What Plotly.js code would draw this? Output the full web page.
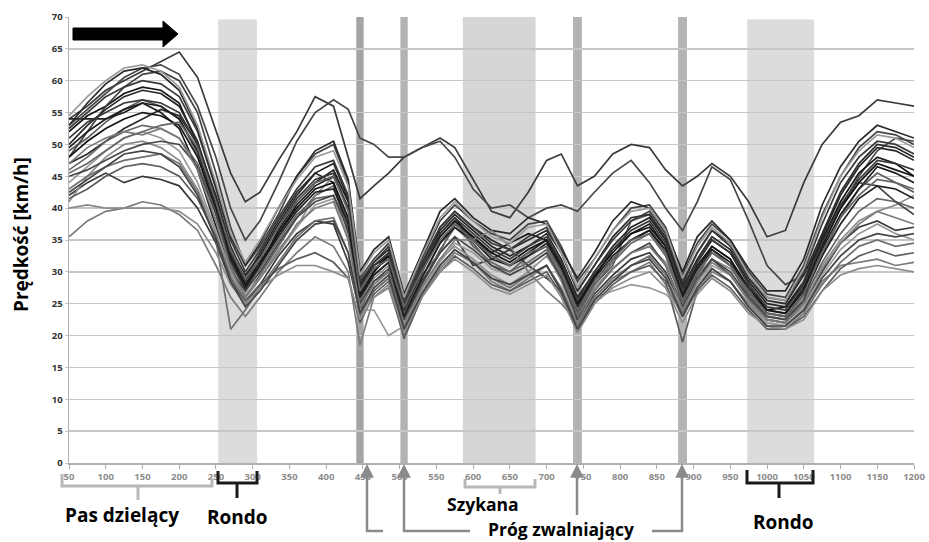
<!DOCTYPE html>
<html><head><meta charset="utf-8">
<script src="https://cdn.plot.ly/plotly-3.0.1.min.js"></script>
<style>html,body{margin:0;padding:0;background:#fff}#chart{width:929px;height:542px}</style>
</head><body><div id="chart"></div>
<script>
// distance along the route [m]
const distance = [50,75,100,125,150,175,200,225,250,270,290,310,335,360,385,410,430,446,465,485,506,530,555,575,600,625,650,675,700,720,742,765,790,815,840,862,885,905,925,950,975,1000,1025,1050,1075,1100,1125,1150,1175,1200];

// speed of each drive [km/h]
const s01 = [54,56,58.5,60,61.5,63,64.5,60.5,52,45.5, 41,42.5,47.5,52,57.5,56,48,41.5,43.5,45.5, 48,49.5,51,49.5,44.5,39.5,38.5,42.5,47.5,48.5, 43.5,45,48.5,50,49.5,46,43.5,45,47,45, 41,35.5,36.5,44,50,53.5,54.5,57,56.5,56];
const s02 = [53,55.5,58,60.5,62,62.5,61,56,48,40, 35,38,44,50.5,55,57,55.5,51,50,48, 48,49.5,50.5,48,43,40,40.5,38.5,40,40.5, 39.5,42.5,45.5,47.5,44,40,36.5,41,46.5,44.5, 38,31,28,29.5,35,40,45,49,51,50.5];
const s03 = [52,54.5,56,58,59,58.5,56.5,50,41,33, 28,31,36.5,41,44,46,41,28,31,32.5, 24,30,36,38.5,35,33,34.5,36,35,31, 25,29,33.5,36,37.5,34,27,31.5,35,33, 28,24,24.5,28,35,41,45.5,48,47,45];
const s04 = [49,51,53.5,55.5,57,56,54,48.5,39,31, 26,29.5,34,38.5,42,43.5,38,24,28.5,30, 21,28,33.5,37,34.5,31,30,32.5,34,30, 23.5,28,31,38,39,35,25.5,30,33.5,31, 26.5,23,22.5,26,32.5,38.5,43,45.5,44,42.5];
const s05 = [47,48.5,50.5,52.5,54,55.5,54.5,50,42,34, 29,33,38,42.5,45.5,44,36,26,30,33, 25,31,37,39.5,37,35,33.5,35,36.5,33, 27,31,35.5,38.5,39,35.5,28,33,36.5,34.5, 29,25.5,25,29.5,36,42.5,47,50,49.5,48];
const s06 = [35.5,38,39.5,40,41,40.5,39,36.5,31,26, 23,26,30,33,35.5,34,30,18.5,26,27.5, 20,26,30.5,33,31.5,28.5,27,29,31,27, 21,25.5,28.5,30,31.5,28,23,27,30,28.5, 25,22,21.5,24,28.5,31,31.5,32,31,31.5];
const s07 = [42,44,45.5,44,45,44.5,43.5,40,34.5,28.5, 25,28,32.5,36,38,37.5,31.5,23.5,27,29, 22.5,28.5,33,35.5,31,32,33.5,31,29,27, 22,26.5,29.5,32,33,30,24.5,28.5,32,29.5, 25.5,22.5,22,25,30,34.5,37,38,36.5,37];
const s08 = [41,45,48,50,50.5,49.5,47.5,43,36,29.5, 26,29,33.5,37,42,45,40,25,29,31, 22,27.5,32,34,32,29.5,28,30,32.5,29, 23,27.5,30.5,33,34,31.5,26,29.5,32,30.5, 27,23.5,23,26,31,35,38,39.5,40.5,42];
const s09 = [54,54,54,55,56.5,55,52.5,46,37,30, 27,31,36,40.5,43.5,45,40,27,30.5,32, 23,29,34.5,37.5,35.5,32.5,31,33,35,31.5, 24.5,29,32.5,35,36.5,33,26.5,31,34,32, 27.5,24,23.5,27,33.5,39,43,46.5,45.5,44];
const s10 = [46,48,50.5,52,53,52.5,51,47,39.5,32, 27.5,30.5,35,39,41.5,42,37,25.5,29.5,31.5, 23.5,29.5,33,38,34,31.5,30,31.5,33.5,29.5, 23,28,31.5,34.5,36,32.5,25,29.5,33,31, 26,22.5,22,25.5,31.5,36,39.5,41.5,41,40];
const s11 = [48,52,56,59,61,61.5,60,55,45.5,37, 31,34,39,45,48.5,50,44,29,32,34.5, 25.5,32,38,40.5,38,36,35,37.5,38,34, 28.5,32,36.5,40,40.5,37,29.5,34.5,37.5,35, 30,26.5,26,31,39,45,49.5,52,51.5,50];
const s12 = [44,46.5,49,51,52,51,49,44,36.5,30, 26.5,29,33,37,40.5,41.5,35.5,24,24,20, 21.5,27,31.5,34.5,33,30.5,29.5,31,33,28.5, 21.5,26,27,28,27.5,26.5,24,28,31,29.5, 25.5,22,21.5,24.5,29.5,33.5,36,37.5,36,35];
const s13 = [50,53,55.5,57.5,58.5,58,56,50.5,41.5,33.5, 29.5,32.5,37.5,42,45.5,47,41.5,28,31.5,33.5, 24.5,30.5,36.5,39,36.5,34,32.5,34,36,32, 26,30,34,37,38.5,35,27.5,32,35.5,33.5, 28.5,25,24.5,28.5,35.5,42,46.5,49.5,49,47.5];
const s14 = [43,45,46.5,47.5,48,48.5,47,42.5,35,21, 24,27.5,31.5,35.5,38,38.5,33,23,27,29, 21,26.5,31,33.5,31.5,29,27.5,29.5,31,27.5, 21.5,26,29,31,32.5,29.5,23.5,27.5,30.5,28.5, 24.5,21.5,21,23.5,28,31.5,34,35,34,34.5];
const s15 = [52.5,55,57.5,59,60,59.5,57.5,52,43,35, 30,33.5,38.5,43,46.5,47.5,42,28.5,31.5,34, 25,31.5,37,39.5,37,34.5,33.5,35.5,37,33, 27,31,35,38,39.5,36,28.5,33,36.5,34, 29,26,25.5,30,37.5,44,48,50.5,50,48.5];
const s16 = [45,46,47.5,49,50,50.5,50,46.5,39,31.5, 27,30,34.5,38.5,41,42,36.5,25,28.5,30.5, 22.5,28,33,35.5,33.5,31,29.5,31,33,29, 22.5,27,30.5,33,34.5,31,24.5,29,32,30, 26,23,22.5,25.5,34,40,44,43.5,41,39];
const s17 = [48,50.5,52.5,54,55,54.5,53,48,40,32.5, 28,31.5,36,40,43,44,38.5,26.5,30,32.5, 24,30,35.5,38,35.5,33,31.5,33.5,35,31, 25,29.5,33,36,37,34,26,30.5,34,32, 27,24,23.5,27.5,34,40,44,47,46,45];
const s18 = [41.5,43,45,46.5,47,46.5,45,41.5,35.5,29, 25.5,28,30.5,32,33,31.5,29,22,26.5,28.5, 19.5,26,30,32.5,30.5,28,27,28.5,30,26.5, 20.5,25,28,30,31,28.5,19,27,29.5,27.5, 24,21,21,23,27,30.5,32.5,33.5,32.5,33];
const s19 = [53,56.5,59.5,61.5,62,61,58.5,52.5,43.5,35.5, 31,34.5,40,45,49,50.5,44.5,30,33.5,35.5, 26.5,33,39.5,41.5,38.5,36.5,36,38.5,37.5,33.5, 29,33,38,41,40,36.5,30,35.5,38,35, 30.5,27,27,32,40.5,46.5,50.5,53,52,51];
const s20 = [47,49.5,51,52,51.5,52.5,51,46,38,30.5, 26,29,33,37.5,40,41,35,24.5,28,30, 21.5,27.5,32,35,35,36.5,34,30,27,25, 22,27,30.5,33,34,31,24,28.5,31.5,29.5, 25.5,22.5,22,25,30.5,34.5,37.5,39.5,38.5,37.5];
const s21 = [51,53.5,55,56.5,57,56.5,55,50,41,33, 28.5,32,37,41.5,44.5,45.5,40,27.5,31,33, 24,30.5,36,38.5,36,33.5,32,34,35.5,31.5, 25.5,30,33.5,36.5,38,34.5,27,31.5,35,33, 28,24.5,24,28,34.5,40.5,44.5,47.5,47,46];
const s22 = [40,40.5,40,40,40,40,39.5,37.5,33,28, 25,27.5,29.5,31,31,30,29,22.5,26,28, 20.5,26,30,32,30,27.5,26.5,28,29.5,26, 20.5,25,27.5,29,30,27.5,22,26.5,29,27, 23.5,21.5,21,22.5,27,29.5,30.5,31,30.5,30];
const s23 = [49.5,52,54,55.5,56.5,56,54,49,40.5,32, 27.5,31,35.5,39.5,42.5,43,37.5,26,29.5,31.5, 23,29,34.5,37,35,32,31,32.5,34.5,30.5, 24,28.5,32,35,36.5,33.5,25.5,30,33.5,31.5, 27,23.5,23,26.5,32.5,37.5,41.5,43.5,43,41.5];
const s24 = [45.5,47,49,51,52,53,53.5,49.5,41,33.5, 29,32,37,41,44,45,39.5,27,30.5,32, 24.5,30,35,37.5,35,32.5,31,33,34,30, 24,28.5,32,35,36,33,25.5,30,33,31, 27,23.5,23,26.5,33,38.5,42,44.5,44,43];
const s25 = [42.5,44.5,46.5,48.5,49,48.5,46.5,42,35,28.5, 24.5,27,31,35,37.5,38,33,23.5,27.5,29.5, 21,26.5,31,33.5,31.5,29,28,29.5,31,27, 21,25.5,28.5,31,32,29,23,27.5,30.5,28.5, 24.5,21.5,21.5,24,29,32.5,35,36,35.5,36];
const s26 = [54.5,57.5,60,62,62.5,61.5,59,53,44,36, 31.5,35,40,44.5,48,49,43.5,29.5,33,35, 26,32.5,38.5,41,38,35.5,34.5,37,37.5,33, 27.5,32,36.5,39.5,40,36.5,29,34,37,34.5, 29.5,26,25.5,30.5,38.5,45,49,51.5,51,49.5];

// road features [m]
const rondoZones = [[253,306],[973,1064]];
const szykanaZone = [586,685];
const progZones = [[441,451],[501,511],[736,748],[879,891]];

const xTicks = [50,100,150,200,250,300,350,400,450,500,550,600,650,700,750,800,850,900,950,1000,1050,1100,1150,1200];
const xTickText = xTicks.map(String);
const yTicks = [0,5,10,15,20,25,30,35,40,45,50,55,60,65,70];

const allSeries = [s01,s02,s03,s04,s05,s06,s07,s08,s09,s10,s11,s12,s13,s14,s15,s16,s17,s18,s19,s20,s21,s22,s23,s24,s25,s26];
const palette = ['#3a3a3a','#474747','#151515','#5c5c5c','#2a2a2a','#7a7a7a','#383838','#8c8c8c','#1f1f1f','#666666','#444444','#9a9a9a','#262626','#707070'];

const traces = allSeries.map((s,i)=>({
  type:'scatter', mode:'lines', x:distance, y:s,
  line:{color:palette[i%palette.length], width:1.7},
  hoverinfo:'skip', showlegend:false
}));

// pixel helpers for the annotation graphics below the axis
const L=69, T=17, W=845, H=446;
const px = x => (x-L)/W;
const py = y => (T+H-y)/H;
const path = pts => 'M' + pts.map(p=>px(p[0]).toFixed(5)+','+py(p[1]).toFixed(5)).join(' L');

const shapes = [];
rondoZones.forEach(z=>shapes.push({type:'rect',xref:'x',yref:'y',x0:z[0],x1:z[1],y0:0,y1:69.6,fillcolor:'#dcdcdc',line:{width:0},layer:'below'}));
shapes.push({type:'rect',xref:'x',yref:'y',x0:szykanaZone[0],x1:szykanaZone[1],y0:0,y1:70,fillcolor:'#d6d6d6',line:{width:0},layer:'below'});
progZones.forEach((z,i)=>shapes.push({type:'rect',xref:'x',yref:'y',x0:z[0],x1:z[1],y0:0,y1:70,fillcolor:i===0?'#a4a4a4':'#b3b3b3',line:{width:0},layer:'below'}));

// brackets
const gray='#b8b8b8', dark='#1a1a1a', arrowGray='#8a8a8a';
shapes.push({type:'path',xref:'paper',yref:'paper',path:path([[62,474],[62,486],[212,486],[212,478]]),line:{color:gray,width:3}});
shapes.push({type:'path',xref:'paper',yref:'paper',path:path([[138,486],[138,500]]),line:{color:gray,width:3}});
shapes.push({type:'path',xref:'paper',yref:'paper',path:path([[218,471],[218,483],[257,483],[257,471]]),line:{color:dark,width:3}});
shapes.push({type:'path',xref:'paper',yref:'paper',path:path([[237,483],[237,498]]),line:{color:dark,width:3}});
shapes.push({type:'path',xref:'paper',yref:'paper',path:path([[465,479],[465,487],[535,487],[535,479]]),line:{color:gray,width:3}});
shapes.push({type:'path',xref:'paper',yref:'paper',path:path([[500,487],[500,494]]),line:{color:gray,width:3}});
shapes.push({type:'path',xref:'paper',yref:'paper',path:path([[747,470],[747,483],[813,483],[813,470]]),line:{color:dark,width:3}});
shapes.push({type:'path',xref:'paper',yref:'paper',path:path([[779,483],[779,498]]),line:{color:dark,width:3}});
// arrow connectors
shapes.push({type:'path',xref:'paper',yref:'paper',path:path([[367,472],[367,531],[383,531]]),line:{color:arrowGray,width:2.5}});
shapes.push({type:'path',xref:'paper',yref:'paper',path:path([[404,472],[404,531],[470,531]]),line:{color:arrowGray,width:2.5}});
shapes.push({type:'path',xref:'paper',yref:'paper',path:path([[577,472],[577,515]]),line:{color:arrowGray,width:2.5}});
shapes.push({type:'path',xref:'paper',yref:'paper',path:path([[682,472],[682,531],[652,531]]),line:{color:arrowGray,width:2.5}});
// big direction arrow
shapes.push({type:'path',xref:'paper',yref:'paper',path:path([[73,28],[163,28],[163,21],[178,34],[163,47],[163,40],[73,40]])+' Z',fillcolor:'#000',line:{color:'#000',width:1}});

const txtFont = {family:'Open Sans, sans-serif', size:19, color:'#000', weight:'bold'};
const lbl = (text,x,y,size)=>({text, xref:'paper', yref:'paper', x:px(x), y:py(y), xanchor:'center', yanchor:'middle', showarrow:false, font:Object.assign({},txtFont,size?{size}:{})});
const annotations = [
  lbl('Pas dzielący',122,515),
  lbl('Rondo',237,517),
  lbl('Szykana',483,504,17.5),
  lbl('Próg zwalniający',561,529,17.5),
  lbl('Rondo',783,522),
  {text:'Prędkość [km/h]', xref:'paper', yref:'paper', x:px(21), y:py(235), xanchor:'center', yanchor:'middle', textangle:-90, showarrow:false, font:{family:'Open Sans, sans-serif', size:19, color:'#000', weight:'bold'}}
];
[367,404,577,682].forEach(x=>annotations.push({text:'', xref:'paper', yref:'paper', x:px(x), y:py(464), ax:0, ay:16, showarrow:true, arrowhead:2, arrowsize:1.1, arrowwidth:2.5, arrowcolor:arrowGray}));

const layout = {
  width:929, height:542,
  margin:{l:L, r:929-L-W, t:T, b:542-T-H},
  paper_bgcolor:'#fff', plot_bgcolor:'#fff',
  showlegend:false,
  xaxis:{range:[50,1200], tickvals:xTicks, ticktext:xTickText, showgrid:false, zeroline:false,
    showline:true, linecolor:'#b0b0b0', linewidth:1.5, ticks:'outside', ticklen:4, tickcolor:'#b0b0b0',
    tickfont:{family:'Open Sans, sans-serif', size:9.5, color:'#8c8c8c', weight:'bold'}},
  yaxis:{range:[0,70], tickvals:yTicks, showgrid:true, gridcolor:'#c6c6c6', gridwidth:1.5, zeroline:false,
    showline:true, linecolor:'#b0b0b0', linewidth:1.5, ticks:'outside', ticklen:3, tickcolor:'#c6c6c6',
    tickfont:{family:'Open Sans, sans-serif', size:9.5, color:'#333', weight:'bold'}},
  shapes:shapes,
  annotations:annotations
};

Plotly.newPlot('chart', traces, layout, {staticPlot:true, displayModeBar:false});
</script>
</body></html>
